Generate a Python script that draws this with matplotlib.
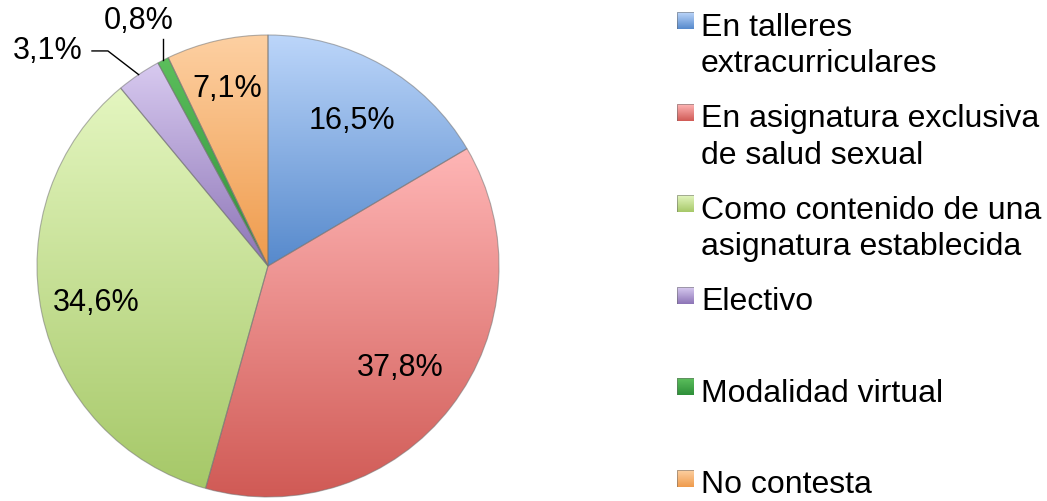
import numpy as np
import matplotlib
matplotlib.use("Agg")
import matplotlib.pyplot as plt
from matplotlib.colors import LinearSegmentedColormap
from matplotlib.patches import Rectangle

plt.rcParams["font.family"] = ["Liberation Sans", "DejaVu Sans"]

# data
labels = [
    "En talleres\nextracurriculares",
    "En asignatura exclusiva\nde salud sexual",
    "Como contenido de una\nasignatura establecida",
    "Electivo",
    "Modalidad virtual",
    "No contesta",
]
values = [16.5, 37.8, 34.6, 3.1, 0.8, 7.1]
value_text = ["16,5%", "37,8%", "34,6%", "3,1%", "0,8%", "7,1%"]

# (light top, dark bottom) per slice
tops = ["#bcd6fa", "#ffb6b6", "#e4f6c0", "#d8caf0", "#5cbf5c", "#fdd0a2"]
bottoms = ["#5689cc", "#d05a55", "#a6c868", "#8c74b6", "#2e8f3a", "#ef9b4c"]

W, H = 1047, 502
fig = plt.figure(figsize=(W / 100, H / 100), dpi=100)

cx, cy, r = 268, 267, 231
ax = fig.add_axes([(cx - r) / W, (H - cy - r) / H, 2 * r / W, 2 * r / H])

wedges, _ = ax.pie(values, startangle=90, counterclock=False, radius=1,
                   colors=tops,
                   wedgeprops=dict(linewidth=0.8, edgecolor=(0.45, 0.45, 0.45, 0.55), zorder=3))

grad = np.linspace(0, 1, 256).reshape(-1, 1)
for w, c_top, c_bot in zip(wedges, tops, bottoms):
    w.set_facecolor("none")
    ext = w.get_path().get_extents()
    cmap = LinearSegmentedColormap.from_list("g", [c_bot, c_top])
    im = ax.imshow(grad, cmap=cmap, origin="lower", aspect="auto",
                   extent=(ext.x0, ext.x1, ext.y0, ext.y1), zorder=2,
                   interpolation="bilinear")
    im.set_clip_path(w)

ax.set_aspect("equal")
ax.set_xlim(-1, 1)
ax.set_ylim(-1, 1)
ax.axis("off")

# data labels
lab_dist = [0.73, 0.72, 0.76, None, None, 0.79]
for w, txt, d in zip(wedges, value_text, lab_dist):
    ang = np.deg2rad((w.theta1 + w.theta2) / 2)
    if d is not None:
        ax.text(d * np.cos(ang), d * np.sin(ang), txt, ha="center", va="center",
                fontsize=22, zorder=5)

# small slices with leader lines
ang31 = np.deg2rad((wedges[3].theta1 + wedges[3].theta2) / 2)
ex, ey = np.cos(ang31), np.sin(ang31)
ax.plot([-0.762, -0.693, ex], [0.931, 0.931, ey], color="black", lw=1, zorder=5, clip_on=False)
ax.text(-0.952, 0.935, value_text[3], ha="center", va="center", fontsize=22, clip_on=False)

ang08 = np.deg2rad((wedges[4].theta1 + wedges[4].theta2) / 2)
ex, ey = np.cos(ang08), np.sin(ang08)
ax.plot([ex, ex], [ey, 0.983], color="black", lw=1, zorder=5, clip_on=False)
ax.text(-0.56, 1.065, value_text[4], ha="center", va="center", fontsize=22, clip_on=False)

# legend drawn by hand
base0, step, line_h = 36, 91.5, 36
for i, (lab, c_top, c_bot) in enumerate(zip(labels, tops, bottoms)):
    base = base0 + i * step
    sq_top = base - 23
    sq = 17
    lax = fig.add_axes([677 / W, (H - sq_top - sq) / H, sq / W, sq / H])
    lax.imshow(grad, cmap=LinearSegmentedColormap.from_list("m", [c_bot, c_top]),
               origin="lower", aspect="auto", extent=(0, 1, 0, 1))
    lax.add_patch(Rectangle((0, 0), 1, 1, fill=False, ec=(0.4, 0.4, 0.4, 0.6), lw=0.6))
    lax.axis("off")
    for j, line in enumerate(lab.split("\n")):
        fig.text(701 / W, (H - (base + j * line_h)) / H, line, ha="left",
                 va="baseline", fontsize=23)

fig.savefig("out.png", dpi=100)
